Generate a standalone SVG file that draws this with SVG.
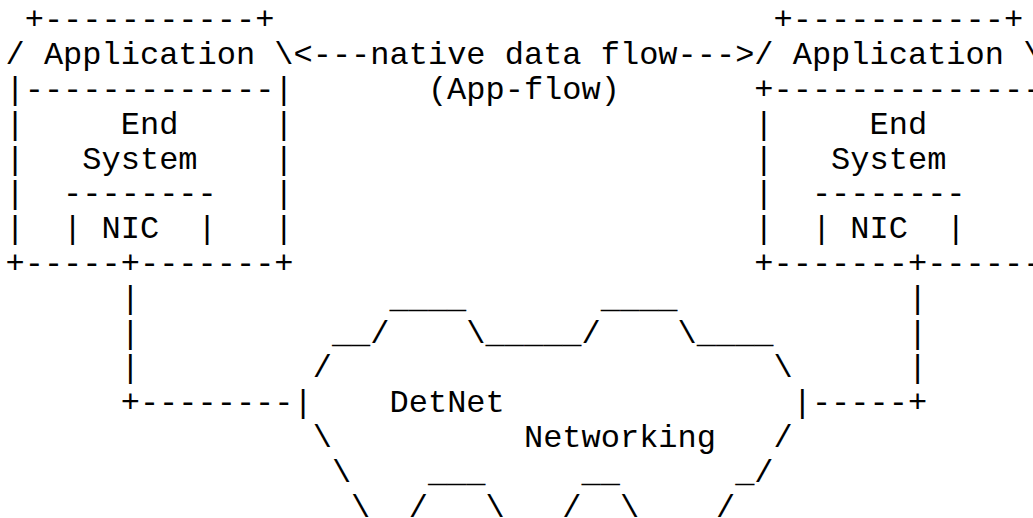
<svg xmlns="http://www.w3.org/2000/svg" width="1033" height="518" viewBox="0 0 1033 518" xml:space="preserve">
<style>
text { font-family: "Liberation Mono", "Courier New", monospace; font-size: 32px; fill: #000; white-space: pre; }
</style>
<rect width="1033" height="518" fill="#fff"/>
<g id="app-left">
<text x="5.5" y="29.2"> +-----------+</text>
<text x="5.5" y="64">/ Application \</text>
<text x="5.5" y="98.8">|-------------|</text>
<text x="5.5" y="133.6">|     End     |</text>
<text x="5.5" y="168.5">|   System    |</text>
<text x="5.5" y="203.3">|  --------   |</text>
<text x="5.5" y="238.1">|  | NIC  |   |</text>
<text x="5.5" y="272.9">+-----+-------+</text>
</g>
<g id="app-right">
<text x="754.3" y="29.2"> +-----------+</text>
<text x="754.3" y="64">/ Application \</text>
<text x="754.3" y="98.8">+--------------</text>
<text x="754.3" y="133.6">|     End</text>
<text x="754.3" y="168.5">|   System</text>
<text x="754.3" y="203.3">|  --------</text>
<text x="754.3" y="238.1">|  | NIC  |</text>
<text x="754.3" y="272.9">+-------+------</text>
</g>
<g id="detnet">
<text x="389.5" y="307.8">____       ____</text>
<text x="331.9" y="342.6">__/    \_____/    \____</text>
<text x="312.7" y="377.4">/                       \</text>
<text x="293.5" y="412.2">|    DetNet               |</text>
<text x="312.7" y="447.0">\          Networking   /</text>
<text x="331.9" y="481.9">\    ___     __      _/</text>
<text x="351.1" y="516.7">\  /   \   /  \    /</text>
</g>
<g id="connectors">
<text x="293.5" y="64">&lt;---native data flow---&gt;</text>
<text x="427.9" y="98.8">(App-flow)</text>
<text x="120.7" y="307.8">|</text>
<text x="120.7" y="342.6">|</text>
<text x="120.7" y="377.4">|</text>
<text x="120.7" y="412.2">+--------</text>
<text x="907.9" y="307.8">|</text>
<text x="907.9" y="342.6">|</text>
<text x="907.9" y="377.4">|</text>
<text x="811.9" y="412.2">-----+</text>
</g>
</svg>
